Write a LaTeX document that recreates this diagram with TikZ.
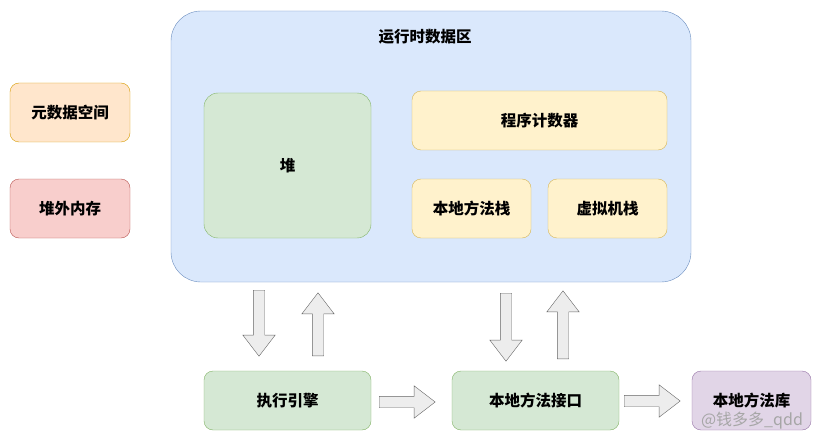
\documentclass[tikz,border=0pt]{standalone}
\usepackage{fontspec}
\setmainfont{Noto Sans CJK SC}
\usepackage{tikz}
\usetikzlibrary{shapes.arrows}
\definecolor{areafill}{HTML}{DAE8FC}
\definecolor{areadraw}{HTML}{6C8EBF}
\definecolor{greenfill}{HTML}{D5E8D4}
\definecolor{greendraw}{HTML}{82B366}
\definecolor{yellowfill}{HTML}{FFF2CC}
\definecolor{yellowdraw}{HTML}{D6B656}
\definecolor{orangefill}{HTML}{FFE6CC}
\definecolor{orangedraw}{HTML}{D79B00}
\definecolor{redfill}{HTML}{F8CECC}
\definecolor{reddraw}{HTML}{B85450}
\definecolor{purplefill}{HTML}{E1D5E7}
\definecolor{purpledraw}{HTML}{9673A6}
\tikzset{
  x=1pt, y=-1pt,
  line width=0.9pt,
}
\tikzstyle{every node}=[font=\fontsize{15.5}{18}\selectfont\bfseries]
\tikzstyle{box}=[draw, rounded corners=9pt, inner sep=0pt, minimum width=119pt, minimum height=59pt]
\tikzstyle{bigarrow}=[draw=black!60, fill=black!7, single arrow, single arrow head extend=10.5pt,
  single arrow tip angle=75, inner sep=0pt, inner ysep=5.5pt, minimum width=32pt,
  shape border uses incircle=false, anchor=tail]

\begin{document}
\begin{tikzpicture}
      \useasboundingbox (0,0) rectangle (822,441);
      \node[box, fill=areafill, draw=areadraw, rounded corners=30pt, minimum width=520pt, minimum height=271pt] (area) at (431,146.5) {};
      \node (areatitle) at (425,37) {运行时数据区};
      \node[box, fill=greenfill, draw=greendraw, rounded corners=14pt, minimum width=167pt, minimum height=145pt] (heap) at (287.5,165.5) {堆};
      \node[box, fill=yellowfill, draw=yellowdraw, minimum width=255pt] (pc) at (539.5,120.5) {程序计数器};
      \node[box, fill=yellowfill, draw=yellowdraw] (nmstack) at (471.5,208.5) {本地方法栈};
      \node[box, fill=yellowfill, draw=yellowdraw] (vmstack) at (607.5,208.5) {虚拟机栈};
      \node[box, fill=orangefill, draw=orangedraw, minimum width=120pt] (meta) at (70,112.5) {元数据空间};
      \node[box, fill=redfill, draw=reddraw, minimum width=120pt] (offheap) at (70,208.5) {堆外内存};
      \node[box, fill=greenfill, draw=greendraw, minimum width=167pt] (engine) at (287.5,400.5) {执行引擎};
      \node[box, fill=greenfill, draw=greendraw, minimum width=167pt] (jni) at (535.5,400.5) {本地方法接口};
      \node[box, fill=purplefill, draw=purpledraw] (nlib) at (751.5,400.5) {本地方法库};
      \node[font=\fontsize{16}{18}\selectfont, text=black!35] (mark) at (752,421) {@钱多多\_qdd};
      % block arrows
      \node[bigarrow, rotate=-90, minimum height=66pt] (heapdown) at (259,290) {};
      \node[bigarrow, rotate=90, minimum height=63pt] (heapup) at (318,356) {};
      \node[bigarrow, rotate=-90, minimum height=68pt] (stackdown) at (506,293) {};
      \node[bigarrow, rotate=90, minimum height=68pt] (stackup) at (563,359) {};
      \node[bigarrow, minimum height=56pt] (tojni) at (379,402) {};
      \node[bigarrow, minimum height=56pt] (tolib) at (624,401) {};
    \end{tikzpicture}
\end{document}
